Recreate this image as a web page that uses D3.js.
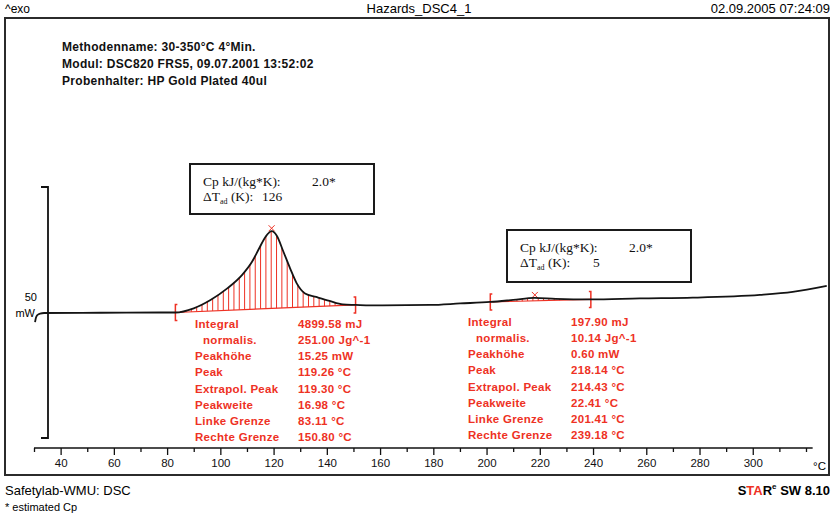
<!DOCTYPE html>
<html lang="de">
<head>
  <meta charset="UTF-8" />
  <title>Hazards_DSC4_1</title>
  <script src="https://cdn.jsdelivr.net/npm/d3@7"></script>
  <style>
    body {
      margin: 0;
      background: #fff;
    }

    svg {
      display: block;
      font-family: "Liberation Sans", Arial, sans-serif;
    }

    .frame {
      fill: none;
      stroke: #2b2b2b;
      stroke-width: 2;
    }

    .curve {
      fill: none;
      stroke: #141414;
      stroke-width: 1.8;
    }

    .hatch, .peak-base, .limit, .top-mark {
      stroke: #ee3124;
      fill: none;
    }

    .red-text {
      fill: #ee3124;
      font-size: 11.5px;
      font-weight: bold;
      letter-spacing: 0.3px;
    }

    .cp-box rect {
      fill: #fff;
      stroke: #1a1a1a;
      stroke-width: 2;
    }

    .cp-box text {
      font-family: "Liberation Serif", "Times New Roman", serif;
      font-size: 13.5px;
      fill: #111;
    }

    .method {
      font-size: 12px;
      font-weight: bold;
      letter-spacing: 0.3px;
      fill: #111;
    }

    #x-axis .domain, #x-axis line {
      stroke: #111;
      stroke-width: 1.3;
    }

    #x-axis text {
      font-size: 11.5px;
      fill: #111;
    }
  </style>
</head>
<body>
  <div id="chart"></div>

  <script>
    const width = 834;
    const height = 515;

    // DSC curve (temperature in °C, heat flow in mW relative to the start baseline)
    const tempC = [30.4, 30.7, 31.3, 32.3, 33.8, 55.0, 77.5, 83.1, 90.0, 96.3, 102.6, 108.2, 111.9,
      114.6, 117.0, 119.3, 121.2, 123.7, 126.2, 128.7, 131.8, 136.0, 141.0, 146.0, 150.8,
      156.3, 178.8, 190.1, 201.4, 210.0, 218.1, 226.0, 239.2, 257.6, 277.5, 302.7, 315.0, 327.8];
    const heatFlow = [-1.9, -1.1, -0.5, -0.2, -0.1, -0.05, 0.0, 0.0, 0.84, 2.5, 4.8, 7.5, 10.1,
      12.8, 15.1, 16.2, 15.3, 12.1, 8.8, 5.8, 3.8, 3.1, 2.3, 1.6, 1.5,
      1.4, 1.5, 1.8, 2.1, 2.5, 2.9, 2.7, 2.6, 2.8, 2.95, 3.5, 4.1, 5.3];

    const xTickValues = d3.range(30, 321, 10);
    const xLabelValues = [40, 60, 80, 100, 120, 140, 160, 180, 200, 220, 240, 260, 280, 300];

    const headerLeft = "^exo";
    const headerTitle = "Hazards_DSC4_1";
    const headerDate = "02.09.2005 07:24:09";
    const methodLines = [
      "Methodenname: 30-350°C 4°Min.",
      "Modul: DSC820 FRS5, 09.07.2001 13:52:02",
      "Probenhalter: HP Gold Plated 40ul"
    ];

    const resultLabels = ["Integral", "normalis.", "Peakhöhe", "Peak", "Extrapol. Peak",
      "Peakweite", "Linke Grenze", "Rechte Grenze"];
    const peak1Results = ["4899.58 mJ", "251.00 Jg^-1", "15.25 mW", "119.26 °C", "119.30 °C",
      "16.98 °C", "83.11 °C", "150.80 °C"];
    const peak2Results = ["197.90 mJ", "10.14 Jg^-1", "0.60 mW", "218.14 °C", "214.43 °C",
      "22.41 °C", "201.41 °C", "239.18 °C"];

    const peakLeft = [83.11, 201.41];
    const peakRight = [150.80, 239.18];
    const peakTop = [119.26, 218.14];
    const cpValues = ["2.0*", "2.0*"];
    const dTadValues = ["126", "5"];

    const svg = d3.select("#chart")
      .append("svg")
      .attr("width", width)
      .attr("height", height);

    const x = d3.scaleLinear().domain([30, 320]).range([34, 806]);
    const y = d3.scaleLinear().domain([-25, 25]).range([438, 187]);
    const flowAt = d3.scaleLinear().domain(tempC).range(heatFlow);

    // header
    svg.append("text").attr("x", 5).attr("y", 13).attr("font-size", 12).text(headerLeft);
    svg.append("text").attr("x", 419).attr("y", 13).attr("font-size", 13)
      .attr("text-anchor", "middle").text(headerTitle);
    svg.append("text").attr("x", 830).attr("y", 13).attr("font-size", 13)
      .attr("text-anchor", "end").text(headerDate);

    svg.append("rect").attr("class", "frame")
      .attr("x", 5).attr("y", 18).attr("width", 824).attr("height", 457);

    svg.selectAll(".method")
      .data(methodLines)
      .enter()
      .append("text")
      .attr("class", "method")
      .attr("x", 62)
      .attr("y", (d, i) => 51 + i * 17)
      .text(d => d);

    // x axis
    const xAxis = d3.axisBottom(x)
      .tickValues(xTickValues)
      .tickSizeOuter(0)
      .tickSize(4)
      .tickFormat(d => xLabelValues.includes(d) ? d : "");

    const gx = svg.append("g")
      .attr("id", "x-axis")
      .attr("transform", "translate(0, 448)")
      .call(xAxis);
    gx.select(".domain").attr("d", `M${x(30)},0H${x(322.5)}`);
    gx.selectAll(".tick line").attr("y2", d => xLabelValues.includes(d) ? 7 : 4);
    gx.selectAll(".tick text").attr("y", 11).attr("dy", "0.71em")
      .style("font-family", "Liberation Sans, Arial, sans-serif");
    svg.append("text").attr("x", 826).attr("y", 470).attr("font-size", 11.5)
      .attr("text-anchor", "end").text("°C");

    // y scale bracket (50 mW)
    svg.append("path")
      .attr("d", `M${41},${y(25)}H48V${y(-25)}H41`)
      .attr("fill", "none").attr("stroke", "#111").attr("stroke-width", 1.8);
    svg.append("text").attr("x", 37).attr("y", 301).attr("font-size", 11)
      .attr("text-anchor", "end").text("50");
    svg.append("text").attr("x", 35).attr("y", 317).attr("font-size", 11)
      .attr("text-anchor", "end").text("mW");

    // peak integration hatching and baselines
    peakLeft.forEach((t0, p) => {
      const t1 = peakRight[p];
      const base = d3.scaleLinear().domain([t0, t1]).range([flowAt(t0), flowAt(t1)]);
      const steps = d3.range(t0 + 2, t1, 2);
      svg.selectAll(null)
        .data(steps)
        .enter()
        .append("line")
        .attr("class", "hatch")
        .attr("stroke-width", 1)
        .attr("x1", d => x(d)).attr("x2", d => x(d))
        .attr("y1", d => y(base(d))).attr("y2", d => y(Math.max(flowAt(d), base(d))));
      svg.append("line")
        .attr("class", "peak-base")
        .attr("stroke-width", 1.2)
        .attr("x1", x(t0)).attr("y1", y(flowAt(t0)))
        .attr("x2", x(t1)).attr("y2", y(flowAt(t1)));

      // limit brackets
      const lx = x(t0), ly = y(flowAt(t0));
      const rx = x(t1), ry = y(flowAt(t1));
      svg.append("path").attr("class", "limit").attr("stroke-width", 1.5)
        .attr("d", `M${lx + 2},${ly - 8}H${lx}V${ly + 8}H${lx + 2}`);
      svg.append("path").attr("class", "limit").attr("stroke-width", 1.5)
        .attr("d", `M${rx - 2},${ry - 8}H${rx}V${ry + 8}H${rx - 2}`);

      // peak top mark
      const px = x(peakTop[p]), py = y(flowAt(peakTop[p])) - 3;
      svg.append("path").attr("class", "top-mark").attr("stroke-width", 1)
        .attr("d", `M${px - 3},${py - 3}L${px + 3},${py + 3}M${px + 3},${py - 3}L${px - 3},${py + 3}`);
    });

    // curve
    const line = d3.line()
      .x((d, i) => x(tempC[i]))
      .y(d => y(d))
      .curve(d3.curveMonotoneX);

    svg.append("path")
      .attr("class", "curve")
      .attr("d", line(heatFlow));

    // result tables
    const tables = [
      { values: peak1Results, lx: 195, vx: 298, y0: 328 },
      { values: peak2Results, lx: 468, vx: 571, y0: 326 }
    ];
    tables.forEach(t => {
      const g = svg.append("g");
      g.selectAll(".lab")
        .data(resultLabels)
        .enter()
        .append("text")
        .attr("class", "red-text")
        .attr("x", (d, i) => i === 1 ? t.lx + 8 : t.lx)
        .attr("y", (d, i) => t.y0 + i * 16.15)
        .text(d => d);
      g.selectAll(".val")
        .data(t.values)
        .enter()
        .append("text")
        .attr("class", "red-text")
        .attr("x", t.vx)
        .attr("y", (d, i) => t.y0 + i * 16.15)
        .text(d => d);
    });

    // Cp boxes
    const boxes = [
      { x: 190, y: 164, w: 184, h: 50, valX: 312, dtX: 262 },
      { x: 507, y: 230, w: 184, h: 52, valX: 629, dtX: 593 }
    ];
    boxes.forEach((b, i) => {
      const g = svg.append("g").attr("class", "cp-box");
      g.append("rect").attr("x", b.x).attr("y", b.y).attr("width", b.w).attr("height", b.h);
      g.append("text").attr("x", b.x + 13).attr("y", b.y + 22).text("Cp kJ/(kg*K):");
      g.append("text").attr("x", b.valX).attr("y", b.y + 22).text(cpValues[i]);
      const dt = g.append("text").attr("x", b.x + 13).attr("y", b.y + 37);
      dt.append("tspan").text("ΔT");
      dt.append("tspan").attr("font-size", 8).attr("dy", 3).text("ad");
      dt.append("tspan").attr("dy", -3).text(" (K):");
      g.append("text").attr("x", b.dtX).attr("y", b.y + 37).text(dTadValues[i]);
    });

    // footer
    svg.append("text").attr("x", 5).attr("y", 495).attr("font-size", 13).text("Safetylab-WMU: DSC");
    svg.append("text").attr("x", 5).attr("y", 511).attr("font-size", 11).text("* estimated Cp");
    const star = svg.append("text").attr("x", 830).attr("y", 495).attr("font-size", 13)
      .attr("font-weight", "bold").attr("text-anchor", "end");
    star.append("tspan").text("S");
    star.append("tspan").attr("fill", "#ee3124").text("TA");
    star.append("tspan").text("R");
    star.append("tspan").attr("font-size", 8).attr("dy", -6).text("e");
    star.append("tspan").attr("dy", 6).text(" SW 8.10");
  </script>
</body>
</html>
